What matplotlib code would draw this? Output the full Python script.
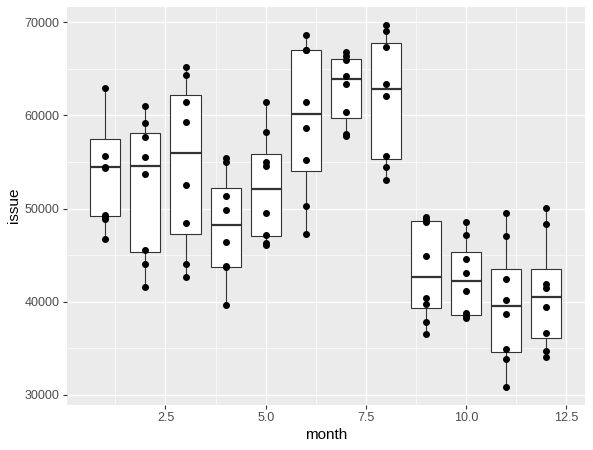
import matplotlib
matplotlib.use("Agg")
import matplotlib.pyplot as plt
from matplotlib.ticker import MultipleLocator

plt.rcParams['font.family'] = ['Liberation Sans', 'DejaVu Sans']

months = [1, 2, 3, 4, 5, 6, 7, 8, 9, 10, 11, 12]

# observed issue values per month (8 per month)
issue = [
    [62900, 55600, 54400, 54300, 49300, 49100, 48900, 46700],
    [61000, 59200, 57700, 55500, 53700, 45600, 44100, 41600],
    [65200, 64300, 61400, 59300, 52500, 48400, 44000, 42700],
    [55400, 55000, 51300, 49800, 46400, 43800, 43700, 39600],
    [61400, 58200, 55000, 54600, 49500, 47200, 46300, 46100],
    [68600, 67000, 67000, 61400, 58600, 55200, 50300, 47300],
    [66800, 66400, 65900, 64200, 63400, 60400, 58000, 57800],
    [69700, 69000, 67300, 63400, 62100, 55600, 54500, 53100],
    [49100, 48900, 48600, 44900, 40400, 39800, 37800, 36500],
    [48600, 47200, 44600, 43100, 41200, 38800, 38500, 38300],
    [49500, 47100, 42400, 40200, 38700, 34900, 33900, 30900],
    [50100, 48300, 41900, 41500, 39400, 36600, 34700, 34100],
]

# box stats
q1 = [49200, 45300, 47300, 43750, 47000, 54000, 59700, 55300, 39300, 38600, 34600, 36100]
med = [54500, 54600, 56000, 48200, 52100, 60100, 63900, 62800, 42700, 42200, 39500, 40500]
q3 = [57500, 58100, 62200, 52200, 55800, 67000, 66000, 67800, 48700, 45300, 43500, 43500]

stats = []
for i in range(len(months)):
    stats.append({"q1": q1[i], "med": med[i], "q3": q3[i],
                  "whislo": min(issue[i]), "whishi": max(issue[i]), "fliers": []})

fig = plt.figure(figsize=(5.93, 4.5), dpi=100)
ax = fig.add_axes([0.1125, 0.1007, 0.874, 0.8843])
ax.set_facecolor("#EBEBEB")

edge = "#333333"
ax.bxp(stats, positions=months, widths=0.75, patch_artist=True,
       showfliers=False, showcaps=False,
       boxprops=dict(facecolor="white", edgecolor=edge, linewidth=0.8),
       whiskerprops=dict(color=edge, linewidth=0.8),
       medianprops=dict(color=edge, linewidth=1.6),
       zorder=3)

for m, vals in zip(months, issue):
    ax.plot([m] * len(vals), vals, "o", color="black", markersize=4, zorder=4)

# ggplot style limits: 5% padding
lo = min(min(v) for v in issue)
hi = max(max(v) for v in issue)
pad = (hi - lo) * 0.05
ax.set_ylim(lo - pad, hi + pad)
xl, xr = months[0] - 0.375, months[-1] + 0.375
xpad = (xr - xl) * 0.05
ax.set_xlim(xl - xpad, xr + xpad)

ax.set_xticks([2.5, 5.0, 7.5, 10.0, 12.5])
ax.set_xticklabels(["2.5", "5.0", "7.5", "10.0", "12.5"])
ax.set_yticks([30000, 40000, 50000, 60000, 70000])
ax.xaxis.set_minor_locator(MultipleLocator(1.25))
ax.yaxis.set_minor_locator(MultipleLocator(5000))

ax.grid(True, which="major", color="white", linewidth=0.9, zorder=0)
ax.grid(True, which="minor", color="white", linewidth=0.45, zorder=0)
ax.set_axisbelow(True)

for s in ax.spines.values():
    s.set_visible(False)
ax.tick_params(which="major", length=3, width=0.8, color=edge,
               labelsize=9, labelcolor="#4D4D4D", pad=2)
ax.tick_params(which="minor", length=0)

ax.set_xlabel("month", fontsize=11, labelpad=3)
ax.set_ylabel("issue", fontsize=11, labelpad=3)

fig.savefig("out.png", dpi=100)
